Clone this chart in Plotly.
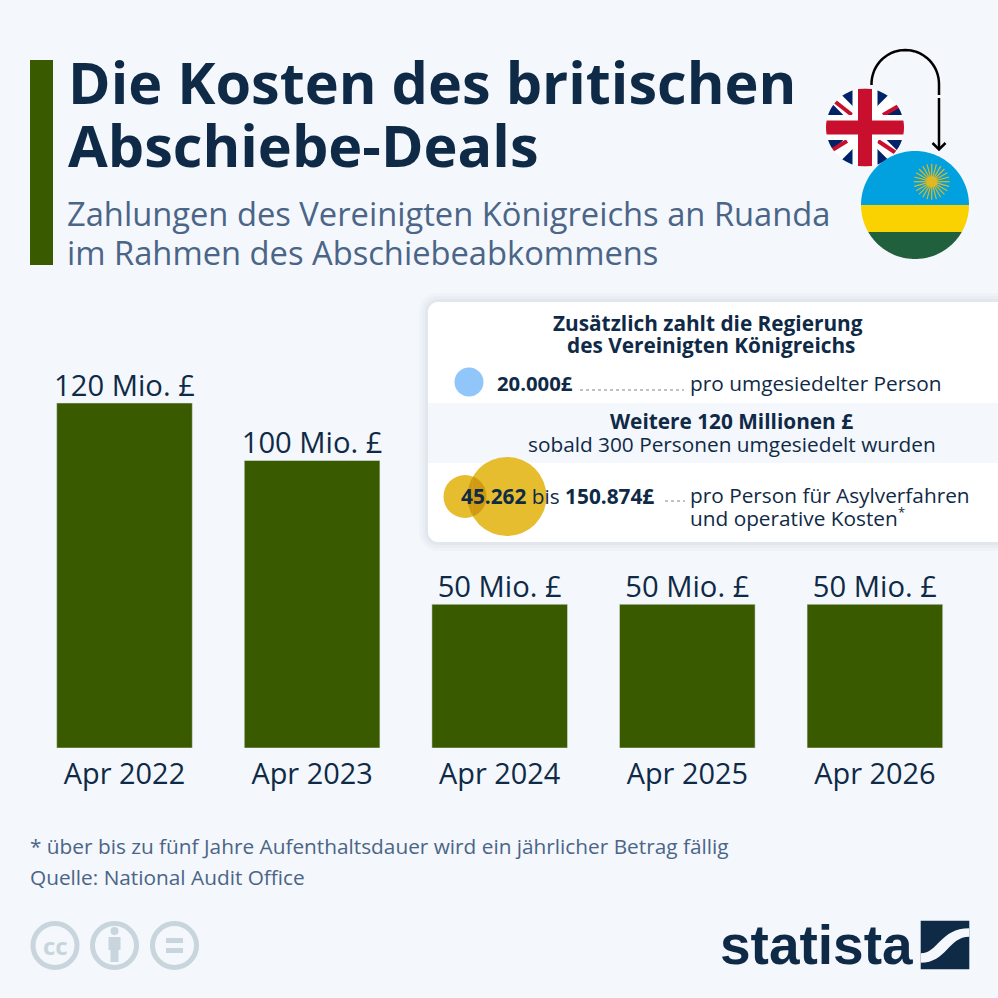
import math
import plotly.graph_objects as go

# data
categories = ['Apr 2022', 'Apr 2023', 'Apr 2024', 'Apr 2025', 'Apr 2026']
values = [120, 100, 50, 50, 50]
labels = ['120 Mio. £', '100 Mio. £', '50 Mio. £', '50 Mio. £', '50 Mio. £']

BG = '#f4f7fb'
GREEN = '#3a5a00'
NAVY = '#0f2a47'
SLATE = '#4a6587'
GREY = '#c8d5dd'
GOLD = '#e6bd2e'
FONT = 'Open Sans'
W = H = 998


def px(x):
    return x / W


def py(y):
    return 1 - y / H


fig = go.Figure()
fig.add_trace(go.Bar(
    x=categories,
    y=values,
    width=0.723,
    marker_color=GREEN,
))
# value labels as a text trace, sits closer to the bars than bar text does
fig.add_trace(go.Scatter(
    x=categories,
    y=values,
    mode='text',
    text=labels,
    textposition='top center',
    cliponaxis=False,
    textfont=dict(family=FONT, size=29.2, color=NAVY),
))

shapes = []
notes = []


def rect(x0, y0, x1, y1, color, opacity=1):
    shapes.append(dict(type='rect', xref='paper', yref='paper', x0=px(x0), x1=px(x1),
                       y0=py(y0), y1=py(y1), fillcolor=color, opacity=opacity,
                       line_width=0, layer='above'))


def circle(cx, cy, r, color, opacity=1, line=None, lw=0):
    shapes.append(dict(type='circle', xref='paper', yref='paper', x0=px(cx - r), x1=px(cx + r),
                       y0=py(cy - r), y1=py(cy + r), fillcolor=color, opacity=opacity,
                       line=dict(color=line or color, width=lw), layer='above'))


def poly(points, color=None, line=None, lw=0, close=True):
    d = 'M' + ' L'.join(f'{px(x):.5f},{py(y):.5f}' for x, y in points) + (' Z' if close else '')
    shapes.append(dict(type='path', xref='paper', yref='paper', path=d,
                       fillcolor=color if color else 'rgba(0,0,0,0)',
                       line=dict(color=line or 'rgba(0,0,0,0)', width=lw), layer='above'))


def seg(x0, y0, x1, y1, color, lw, dash='solid'):
    shapes.append(dict(type='line', xref='paper', yref='paper', x0=px(x0), x1=px(x1),
                       y0=py(y0), y1=py(y1), line=dict(color=color, width=lw, dash=dash),
                       layer='above'))


def band(cx, cy, r, y0, y1, color):
    # slice of a circle between two horizontal lines
    a0 = math.asin((y0 - cy) / r)
    a1 = math.asin((y1 - cy) / r)
    steps = 40
    right = [(cx + r * math.cos(a0 + (a1 - a0) * i / steps), cy + r * math.sin(a0 + (a1 - a0) * i / steps))
             for i in range(steps + 1)]
    left = [(2 * cx - x, y) for x, y in reversed(right)]
    poly(right + left, color)


def rounded(x0, y0, x1, y1, r, color, opacity=1):
    pts = []
    for cx, cy, start in [(x1 - r, y0 + r, -90), (x1 - r, y1 - r, 0), (x0 + r, y1 - r, 90), (x0 + r, y0 + r, 180)]:
        for i in range(9):
            a = math.radians(start + i * 90 / 8)
            pts.append((cx + r * math.cos(a), cy + r * math.sin(a)))
    d = 'M' + ' L'.join(f'{px(x):.5f},{py(y):.5f}' for x, y in pts) + ' Z'
    shapes.append(dict(type='path', xref='paper', yref='paper', path=d, fillcolor=color,
                       opacity=opacity, line_width=0, layer='above'))


def note(x, y, text, size, color=NAVY, anchor='left', family=FONT):
    notes.append(dict(xref='paper', yref='paper', x=px(x), y=py(y), text=text, showarrow=False,
                      xanchor=anchor, yanchor='middle', align=anchor,
                      font=dict(family=family, size=size, color=color)))


# header
rect(30, 60, 53, 265, GREEN)
note(66, 81, '<b>Die Kosten des britischen</b>', 57.6)
note(66, 145, '<b>Abschiebe-Deals</b>', 57.6)
note(65, 213, 'Zahlungen des Vereinigten Königreichs an Ruanda', 32.7, SLATE)
note(65, 253, 'im Rahmen des Abschiebeabkommens', 32.7, SLATE)

# UK flag
ux, uy, ur = 865, 127.5, 39
rect(ux - ur, uy - ur, ux + ur, uy + ur, '#012169')
seg(ux - 28, uy - 28, ux + 28, uy + 28, 'white', 13)
seg(ux - 28, uy + 28, ux + 28, uy - 28, 'white', 13)
seg(833, 100, 852, 115, '#c8102e', 4)
seg(883, 115, 902, 104, '#c8102e', 4)
seg(829, 152, 847, 141, '#c8102e', 4)
seg(878, 141, 896, 153, '#c8102e', 4)
rect(ux - 12.5, uy - ur, ux + 12.5, uy + ur, 'white')
rect(ux - ur, uy - 12.5, ux + ur, uy + 12.5, 'white')
rect(ux - 7, uy - ur, ux + 7, uy + ur, '#c8102e')
rect(ux - ur, uy - 7, ux + ur, uy + 7, '#c8102e')
# mask around the flag so it reads as a round badge
outer = [(ux - ur - 1, uy - ur - 1), (ux + ur + 1, uy - ur - 1), (ux + ur + 1, uy + ur + 1), (ux - ur - 1, uy + ur + 1), (ux - ur - 1, uy - ur - 1)]
inner = [(ux + ur * math.cos(math.radians(-135 - i * 5)), uy + ur * math.sin(math.radians(-135 - i * 5))) for i in range(73)]
poly(outer + inner, BG)

# arrow
arc = [(871.5 + 33.75 - 33.75 * math.cos(math.radians(i * 5)), 84 - 34 * math.sin(math.radians(i * 5))) for i in range(37)]
poly([(871.5, 85)] + arc + [(939, 95)], None, 'black', 2.5, close=False)
poly([(939, 98), (939, 149)], None, 'black', 2.5, close=False)
poly([(932.5, 143), (939, 149.5), (945.5, 143)], None, 'black', 2.5, close=False)

# Rwanda flag
rx, ry, rr = 915, 205, 54
band(rx, ry, rr, ry - rr + 0.01, 205, '#00a1de')
band(rx, ry, rr, 205, 232, '#fad201')
band(rx, ry, rr, 232, ry + rr - 0.01, '#20603d')
sx, sy = 931.7, 181.7
for i in range(24):
    a = math.radians(i * 15)
    seg(sx, sy, sx + 18 * math.cos(a), sy + 18 * math.sin(a), '#dfb822', 1.2)
circle(sx, sy, 5.5, '#dfb822')

# card
for grow, op in [(9, 0.03), (6, 0.04), (3, 0.05)]:
    rounded(428 - grow, 302 - grow, 1020, 542 + grow, 10 + grow, '#5a7890', op)
rounded(428, 302, 1020, 542, 10, 'white')
rect(428, 403, 998, 463, BG)

note(708, 323, '<b>Zusätzlich zahlt die Regierung</b>', 20.8, anchor='center')
note(710.5, 345, '<b>des Vereinigten Königreichs</b>', 20.8, anchor='center')
circle(469, 382, 14.5, '#90c6f9')
note(495, 383, '<b>20.000£</b>', 20.3)
seg(580, 390, 684, 390, '#666666', 0.8, 'dot')
note(688, 383, 'pro umgesiedelter Person', 20.8)
note(731, 421, '<b>Weitere 120 Millionen £</b>', 20.8, anchor='center')
note(732, 444, 'sobald 300 Personen umgesiedelt wurden', 20.8, anchor='center')

# yellow circles with their darker overlap
circle(465, 496.5, 21.5, GOLD)
circle(507, 496.5, 39.5, GOLD)
lens = [(465 + 21.5 * math.cos(math.radians(-68 + i * 8.5)), 496.5 + 21.5 * math.sin(math.radians(-68 + i * 8.5))) for i in range(17)]
lens += [(507 + 39.5 * math.cos(math.radians(210 - i * 7.5)), 496.5 + 39.5 * math.sin(math.radians(210 - i * 7.5))) for i in range(9)]
poly(lens, '#cf9a14')

note(459, 496, '<b>45.262</b> bis <b>150.874£</b>', 20.8)
seg(665, 501, 685, 501, '#666666', 0.8, 'dot')
note(688, 495, 'pro Person für Asylverfahren', 20.8)
note(688, 518, 'und operative Kosten', 20.8)
note(896, 512, '*', 13)

# footer
note(28, 846, '* über bis zu fünf Jahre Aufenthaltsdauer wird ein jährlicher Betrag fällig', 20.8, SLATE)
note(28, 877, 'Quelle: National Audit Office', 20.8, SLATE)

# licence icons
for cx in [55, 114.5, 174.5]:
    circle(cx, 945.5, 22, 'rgba(0,0,0,0)', line=GREY, lw=5)
note(55, 945, '<b>cc</b>', 24, GREY, anchor='center')
circle(114.5, 931, 4, GREY)
rect(108.5, 937, 120.5, 950, GREY)
rect(110.5, 950, 118.5, 962, GREY)
rect(166, 938, 183, 943, GREY)
rect(166, 948, 183, 953, GREY)

# logo
note(718, 945, '<b>statista</b>', 55, NAVY, family='Liberation Sans')
rect(920.7, 920.7, 969.3, 969.3, NAVY)


def lx(v):
    return px(905 + v / 3)


def ly(v):
    return py(910 + v / 3)


swoosh = (f'M{lx(47)},{ly(130)} C{lx(100)},{ly(130)} {lx(105)},{ly(55)} {lx(193)},{ly(55)} '
          f'L{lx(193)},{ly(80)} C{lx(130)},{ly(80)} {lx(125)},{ly(158)} {lx(47)},{ly(158)} Z')
shapes.append(dict(type='path', xref='paper', yref='paper', path=swoosh, fillcolor=BG,
                   line_width=0, layer='above'))

fig.update_layout(
    width=W,
    height=H,
    paper_bgcolor=BG,
    plot_bgcolor=BG,
    margin=dict(l=0, r=0, t=0, b=0),
    showlegend=False,
    shapes=shapes,
    annotations=notes,
)
fig.update_xaxes(domain=[px(30.7), px(968.7)], range=[-0.5, 4.5], showgrid=False, showline=False,
                 ticks='', ticklabelstandoff=6, tickfont=dict(family=FONT, size=28.9, color=NAVY))
fig.update_yaxes(domain=[py(748), py(345.5)], range=[0, 140], visible=False)

# the page's default body margin would shift the fixed-size figure
fig.write_html('out.html', post_script="document.body.style.margin='0';",
               config={'displayModeBar': False})
